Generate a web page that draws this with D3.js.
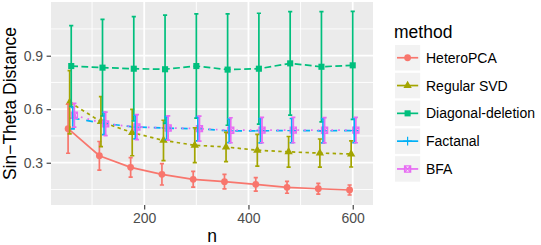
<!DOCTYPE html>
<html><head><meta charset="utf-8">
<script src="https://cdn.jsdelivr.net/npm/d3@7"></script>
<style>body{margin:0;background:#fff;} text{font-family:"Liberation Sans", Arial, sans-serif;}</style>
</head><body>
<svg id="chart" width="541" height="245"></svg>
<script>
const nValues = [60,120,180,240,300,360,420,480,540,600];
const methods = ["HeteroPCA","Regular SVD","Diagonal-deletion","Factanal","BFA"];
const heteroMean = [0.491,0.339,0.274,0.235,0.207,0.194,0.179,0.162,0.154,0.147];
const heteroSd   = [0.138,0.080,0.055,0.060,0.044,0.041,0.038,0.033,0.030,0.028];
const svdMean    = [0.639,0.530,0.469,0.425,0.398,0.388,0.370,0.361,0.354,0.349];
const svdSd      = [0.177,0.140,0.130,0.113,0.098,0.082,0.089,0.086,0.079,0.073];
const diagMean   = [0.842,0.833,0.827,0.824,0.842,0.822,0.827,0.857,0.838,0.846];
const diagSd     = [0.226,0.271,0.292,0.303,0.292,0.312,0.311,0.290,0.309,0.303];
const factMean   = [0.550,0.520,0.500,0.494,0.490,0.479,0.479,0.480,0.479,0.480];
const factSd     = [0.060,0.063,0.066,0.064,0.068,0.066,0.068,0.068,0.068,0.068];
const bfaMean    = [0.566,0.518,0.500,0.495,0.491,0.482,0.483,0.483,0.482,0.483];
const bfaSd      = [0.067,0.066,0.070,0.068,0.070,0.070,0.071,0.071,0.071,0.071];
const xTicks = [200,400,600];
const xMinor = [100,300,500];
const yTicks = [0.3,0.6,0.9];
const yMinor = [0.15,0.45,0.75,1.05];

const means = [heteroMean, svdMean, diagMean, factMean, bfaMean];
const sds = [heteroSd, svdSd, diagSd, factSd, bfaSd];
const colors = ["#F8766D","#A3A500","#00BF7D","#00B0F6","#E76BF3"];
const dashes = [null,"3.4,3.4","6.8,3.4","6.8,6.8","1.7,5.1"];
const shapes = ["circle","triangle","square","plus","squarecross"];
const dodge = [-6,-3,0,3,6];

const svg = d3.select("#chart");
const P = {l:51, r:373, t:2, b:205};
const x = d3.scaleLinear().domain([21.2, 638.9]).range([P.l, P.r]);
const y = d3.scaleLinear().domain([0.063, 1.201]).range([P.b, P.t]);

svg.append("rect").attr("x",0).attr("y",0).attr("width",541).attr("height",245).attr("fill","#fff");
svg.append("rect").attr("x",P.l).attr("y",P.t).attr("width",P.r-P.l).attr("height",P.b-P.t).attr("fill","#EBEBEB");

const grid = svg.append("g");
yMinor.forEach(v=>grid.append("line").attr("x1",P.l).attr("x2",P.r).attr("y1",y(v)).attr("y2",y(v)).attr("stroke","#fff").attr("stroke-width",0.9));
xMinor.forEach(v=>grid.append("line").attr("y1",P.t).attr("y2",P.b).attr("x1",x(v)).attr("x2",x(v)).attr("stroke","#fff").attr("stroke-width",0.9));
yTicks.forEach(v=>grid.append("line").attr("x1",P.l).attr("x2",P.r).attr("y1",y(v)).attr("y2",y(v)).attr("stroke","#fff").attr("stroke-width",1.8));
xTicks.forEach(v=>grid.append("line").attr("y1",P.t).attr("y2",P.b).attr("x1",x(v)).attr("x2",x(v)).attr("stroke","#fff").attr("stroke-width",1.8));

// axes
const xAxis = svg.append("g").attr("transform",`translate(0,${P.b})`)
  .call(d3.axisBottom(x).tickValues(xTicks).tickSize(4.4).tickPadding(3.5).tickFormat(d3.format("d")));
const yAxis = svg.append("g").attr("transform",`translate(${P.l},0)`)
  .call(d3.axisLeft(y).tickValues(yTicks).tickSize(4.4).tickPadding(3.5).tickFormat(d3.format(".1f")));
[xAxis,yAxis].forEach(a=>{
  a.select(".domain").remove();
  a.selectAll(".tick line").attr("stroke","#333333").attr("stroke-width",1.1);
  a.selectAll(".tick text").attr("fill","#4D4D4D").style("font-size","14px").style("font-family","Liberation Sans, Arial, sans-serif");
});

svg.append("text").attr("x",(P.l+P.r)/2).attr("y",242).attr("text-anchor","middle")
  .style("font-size","17.5px").attr("fill","#000").text("n");
svg.append("text").attr("transform",`translate(16,${(P.t+P.b)/2}) rotate(-90)`).attr("text-anchor","middle")
  .style("font-size","17.5px").attr("fill","#000").text("Sin\u2212Theta Distance");

function drawShape(g, shape, cx, cy, col){
  const xc = 3.1;
  if(shape==="circle"){
    g.append("circle").attr("cx",cx).attr("cy",cy).attr("r",xc+0.3).attr("fill",col);
  } else if(shape==="triangle"){
    const r = 1.555*xc, xc2 = r*Math.sqrt(3)/2, yc = r/2;
    g.append("path").attr("d",`M${cx},${cy-r}L${cx+xc2},${cy+yc}L${cx-xc2},${cy+yc}Z`).attr("fill",col);
  } else if(shape==="square"){
    const h = 0.886*xc+0.3;
    g.append("rect").attr("x",cx-h).attr("y",cy-h).attr("width",2*h).attr("height",2*h).attr("fill",col);
  } else if(shape==="plus"){
    const h = 1.414*xc;
    g.append("path").attr("d",`M${cx-h},${cy}H${cx+h}M${cx},${cy-h}V${cy+h}`).attr("stroke",col).attr("stroke-width",1.2).attr("fill","none");
  } else {
    const h = xc;
    g.append("path").attr("d",`M${cx-h},${cy-h}H${cx+h}V${cy+h}H${cx-h}ZM${cx-h},${cy-h}L${cx+h},${cy+h}M${cx+h},${cy-h}L${cx-h},${cy+h}`)
      .attr("stroke",col).attr("stroke-width",1.2).attr("fill","none");
  }
}

const series = methods.map((m,i)=>nValues.map((n,j)=>({n:n+dodge[i], mean:means[i][j], sd:sds[i][j]})));
const plot = svg.append("g");
// lines
series.forEach((s,i)=>{
  const p = plot.append("path").datum(s)
    .attr("d", d3.line().x(d=>x(d.n)).y(d=>y(d.mean)))
    .attr("fill","none").attr("stroke",colors[i]).attr("stroke-width",1.7).attr("stroke-linecap","butt");
  if(dashes[i]) p.attr("stroke-dasharray",dashes[i]);
});
// points
series.forEach((s,i)=>{
  s.forEach(d=>drawShape(plot, shapes[i], x(d.n), y(d.mean), colors[i]));
});
// error bars
const capW = 8;
series.forEach((s,i)=>{
  s.forEach(d=>{
    const lo = y(d.mean-d.sd), hi = y(d.mean+d.sd), xa = x(d.n-capW/2), xb = x(d.n+capW/2), xm = x(d.n);
    plot.append("path").attr("d",`M${xa},${hi}H${xb}M${xm},${hi}V${lo}M${xa},${lo}H${xb}`)
      .attr("stroke",colors[i]).attr("stroke-width",1.7).attr("fill","none");
  });
});

// legend
const leg = svg.append("g");
leg.append("text").attr("x",394).attr("y",37.5).style("font-size","17.5px").attr("fill","#000").text("method");
methods.forEach((m,i)=>{
  const ky = 45 + i*27.8, kx = 395, kw = 25.2, kh = 25.5;
  leg.append("rect").attr("x",kx).attr("y",ky).attr("width",kw).attr("height",kh).attr("fill","#F2F2F2");
  const cy = ky+kh/2;
  leg.append("line").attr("x1",kx+kw*0.08).attr("x2",kx+kw*0.92).attr("y1",cy).attr("y2",cy).attr("stroke",colors[i]).attr("stroke-width",1.7);
  drawShape(leg, shapes[i], kx+kw/2, cy, colors[i]);
  leg.append("text").attr("x",426).attr("y",cy+5).style("font-size","14px").attr("fill","#000").text(m);
});
</script>
</body></html>
